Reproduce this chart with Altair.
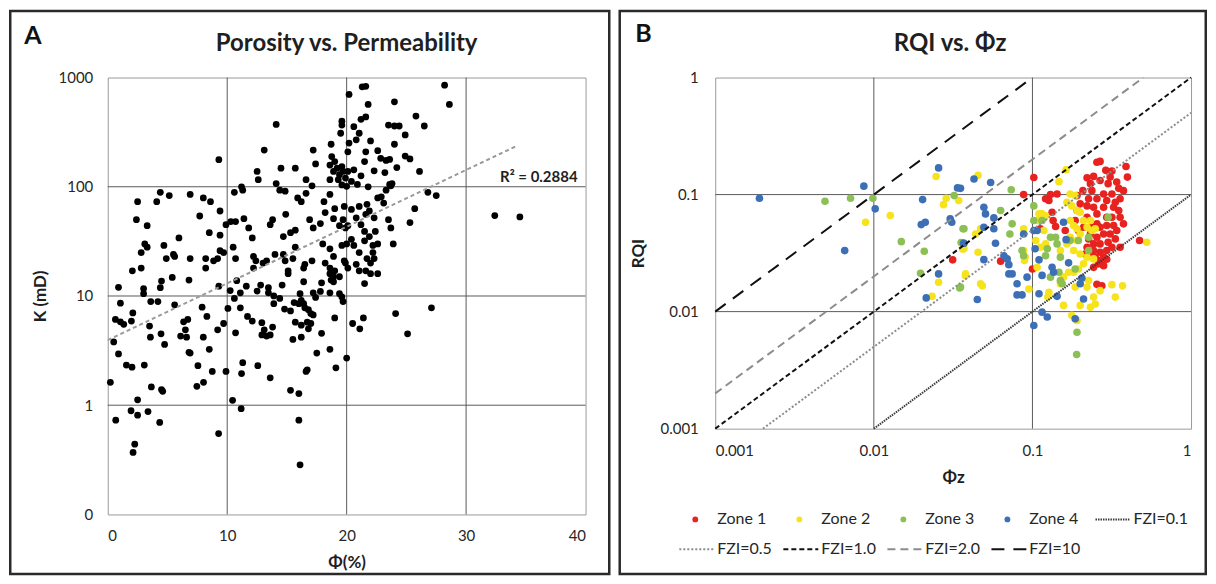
import altair as alt
import pandas as pd

FONT = "Lato"
TXT = "#1f1f1f"
GRID = "#5a5a5a"

# ---------------- Panel A data: porosity (%) vs permeability (mD) ----------------
A_PTS = [
    (14.1, 372), (19.6, 398), (19.6, 367), (19.5, 309), (9.3, 177), (13.1, 217), (17.2, 217), (14.5, 148),
    (15.7, 148), (12.5, 138), (12.6, 116), (17.4, 162), (18.7, 245), (18.75, 189), (18.6, 158), (18.9, 138),
    (19.0, 170), (19.2, 148), (19.4, 129), (19.6, 153), (19.7, 138), (18.6, 116), (19.3, 116), (19.9, 120),
    (19.6, 104), (20.0, 101), (16.6, 116), (17.1, 102), (14.1, 107), (14.4, 93), (14.85, 91), (10.6, 89),
    (11.2, 100), (11.3, 93), (15.9, 79), (16.2, 73), (16.6, 87), (18.1, 73), (18.6, 85), (2.5, 73), (4.4, 89),
    (5.15, 83), (4.1, 73), (6.9, 85), (8.0, 79), (8.6, 73), (9.4, 60), (2.4, 50), (3.3, 44), (7.7, 54),
    (5.96, 34), (8.5, 38), (9.4, 36), (9.9, 45), (10.3, 48), (10.7, 48), (11.4, 51), (11.8, 42), (12.1, 34),
    (13.6, 45), (13.8, 50), (14.9, 56), (14.7, 35), (15.3, 38), (15.7, 40), (16.9, 50), (17.2, 42), (17.8, 46),
    (18.2, 58), (18.9, 51), (19.0, 63), (19.4, 44), (19.7, 50), (19.9, 42), (3.1, 30), (3.3, 28), (4.7, 29),
    (2.8, 25), (2.8, 18), (2.06, 17), (4.9, 22), (5.6, 23), (5.5, 24), (6.9, 22), (8.2, 18), (8.2, 22),
    (8.86, 21), (9.2, 22), (9.4, 26), (9.7, 25), (10.5, 28), (10.7, 22), (12.2, 23), (12.4, 21), (13.0, 20),
    (13.3, 21), (14.0, 24), (14.7, 24), (14.85, 21), (15.7, 28), (15.5, 22), (16.4, 18), (16.5, 19.5),
    (17.1, 21), (15.1, 17), (15.1, 16), (12.2, 18), (18.2, 20), (18.6, 18), (18.6, 16), (18.9, 15), (18.7, 14),
    (19.0, 17), (19.4, 15), (18.0, 30), (18.6, 27), (18.9, 23), (19.6, 29), (20.0, 30), (19.9, 20),
    (4.5, 13.7), (5.4, 14.8), (6.8, 14), (0.9, 12), (3.0, 11.7), (3.0, 10.5), (4.4, 11.9), (9.3, 12.3),
    (10.8, 13.8), (11.6, 12.3), (12.8, 12.6), (13.45, 11.9), (14.6, 12.6), (16.4, 13.5), (17.9, 13.2),
    (18.9, 13.5), (10.25, 11.2), (11.1, 10.7), (12.5, 11.1), (13.45, 10.7), (13.9, 10), (14.4, 9.5),
    (17.2, 10.7), (17.8, 11), (18.6, 10.7), (19.4, 10.5), (3.6, 8.9), (4.2, 8.9), (10.6, 9.5), (16.1, 10.5),
    (17.4, 9.7), (19.6, 9.8), (19.7, 8.9),
    (1.06, 8.6), (2.1, 7.0), (0.64, 6.1), (1.06, 5.8), (1.34, 5.5), (1.98, 5.9), (3.5, 5.3), (3.57, 4.2),
    (4.46, 4.5), (4.76, 3.6), (5.6, 8.3), (7.9, 7.9), (8.3, 6.5), (8.0, 4.2), (6.35, 5.8), (6.7, 6.1),
    (6.5, 4.9), (6.1, 4.3), (6.6, 4.2), (6.8, 3.05), (6.9, 3.0), (8.5, 3.25), (9.2, 4.9), (9.7, 5.6),
    (10.06, 7.7), (11.1, 7.8), (10.7, 4.6), (11.7, 6.5), (12.1, 5.9), (12.9, 5.7), (13.1, 4.9), (13.3, 4.3),
    (13.6, 4.4), (13.8, 5.2), (12.9, 4.4), (13.9, 8.5), (14.8, 7.6), (15.3, 7.3), (15.6, 8.7), (16.0, 8.5),
    (16.2, 9.1), (16.4, 8.5), (16.5, 7.8), (16.8, 7.5), (17.0, 6.9), (17.2, 6.7), (15.7, 5.75), (16.2, 5.4),
    (16.7, 5.75), (17.0, 5.6), (16.8, 5.0), (15.5, 4.0), (16.2, 4.2), (17.9, 4.55), (18.6, 3.25), (19.0, 6.3),
    (17.5, 3.0), (20.0, 2.7), (1.56, 2.33), (2.03, 2.23), (3.06, 2.33), (0.22, 1.62), (3.65, 1.47),
    (4.5, 1.39), (4.6, 1.34), (7.55, 2.3), (8.02, 1.62), (7.46, 1.49), (8.75, 2.04), (9.9, 2.04), (11.3, 2.45),
    (11.2, 1.95), (12.56, 2.3), (13.6, 1.78), (15.3, 1.37), (16.0, 1.28), (16.6, 2.04), (16.7, 2.11),
    (19.1, 2.2), (2.5, 1.12), (1.95, 0.89), (2.5, 0.81), (3.37, 0.875), (0.67, 0.73), (4.35, 0.695),
    (10.45, 1.11), (11.17, 0.93), (9.28, 0.55), (16.0, 0.73), (2.26, 0.44), (2.12, 0.37), (16.1, 0.285),
    (0.5, 3.8), (0.9, 2.95), (20.5, 5.6), (21.1, 5.0), (21.4, 6.3), (24.1, 6.9), (25.1, 4.5), (27.1, 7.8),
    (21.3, 822), (21.6, 832), (20.2, 700), (28.2, 851), (28.6, 567), (21.8, 567), (24.0, 600), (21.2, 414),
    (21.6, 436), (20.6, 355), (21.05, 309), (23.5, 367), (24.0, 360), (24.4, 360), (25.8, 444), (26.5, 360),
    (24.9, 298), (22.0, 263), (20.2, 251), (20.8, 269), (24.0, 245), (21.6, 209), (21.5, 170), (22.6, 214),
    (22.85, 182), (23.3, 174), (23.6, 178), (24.9, 191), (25.3, 180), (20.1, 209), (20.1, 138), (20.6, 143),
    (21.2, 126), (22.3, 140), (24.2, 150), (26.1, 138), (23.2, 135), (23.8, 107), (23.7, 102), (20.4, 112),
    (20.9, 105), (21.8, 100), (23.3, 93), (23.6, 105), (26.8, 89), (27.5, 83), (22.6, 79), (22.9, 81),
    (23.1, 71), (25.7, 63), (32.4, 54.5), (34.5, 53), (19.8, 66), (20.4, 62), (21.05, 66), (21.7, 69),
    (21.9, 60), (20.8, 52), (21.6, 56), (21.2, 45), (20.1, 44), (22.3, 52), (23.5, 50), (23.7, 42), (25.3, 47),
    (21.5, 39), (21.9, 35), (22.4, 39), (23.9, 30), (20.6, 29), (21.05, 25), (20.4, 33), (21.5, 32),
    (22.2, 29), (22.6, 30), (22.2, 25), (21.7, 22), (22.3, 22), (22.0, 20), (19.8, 21), (20.1, 18),
    (20.8, 19.5), (21.05, 17), (21.6, 17), (22.0, 16), (22.6, 16), (21.5, 13),
]
TREND_PHI = [0.0, 34.3]
TREND_K = [3.95, 238.0]
R2_TEXT = "R² = 0.2884"
R2_AT = (39.33, 122.5)
A_XTICKS = [0, 10, 20, 30, 40]
A_YTICKS = [0.1, 1, 10, 100, 1000]

# ---------------- Panel B data: RQI vs normalised porosity ----------------
ZONE1 = [
    (0.255, 0.189), (0.267, 0.192), (0.29, 0.161), (0.317, 0.159), (0.389, 0.174), (0.397, 0.141),
    (0.221, 0.139), (0.243, 0.143), (0.267, 0.132), (0.30, 0.124), (0.34, 0.128), (0.35, 0.113),
    (0.375, 0.108), (0.317, 0.101), (0.281, 0.101), (0.237, 0.108), (0.208, 0.108), (0.191, 0.098),
    (0.226, 0.092), (0.255, 0.092), (0.294, 0.089), (0.333, 0.086), (0.357, 0.092), (0.325, 0.078),
    (0.281, 0.078), (0.243, 0.078), (0.221, 0.080), (0.200, 0.0833), (0.35, 0.0731), (0.375, 0.0562),
    (0.34, 0.0493), (0.294, 0.0641), (0.255, 0.0684), (0.221, 0.0641), (0.237, 0.0526), (0.267, 0.0526),
    (0.294, 0.0544), (0.325, 0.0544), (0.281, 0.0461), (0.255, 0.0432), (0.226, 0.0418), (0.243, 0.0379),
    (0.267, 0.0379), (0.30, 0.0392), (0.333, 0.0418), (0.221, 0.0355), (0.243, 0.0333), (0.267, 0.0322),
    (0.294, 0.0333), (0.249, 0.0292), (0.267, 0.0273), (0.281, 0.0247), (0.261, 0.0256), (0.237, 0.030),
    (0.281, 0.0292), (0.474, 0.0405), (0.088, 0.100), (0.102, 0.140), (0.130, 0.100), (0.143, 0.101),
    (0.121, 0.092), (0.127, 0.089), (0.133, 0.0707), (0.135, 0.060), (0.140, 0.0533), (0.112, 0.051),
    (0.186, 0.060), (0.195, 0.0493), (0.161, 0.0493), (0.063, 0.027), (0.10, 0.0231), (0.255, 0.0171),
    (0.274, 0.0166), (0.232, 0.124), (0.309, 0.141), (0.210, 0.0526), (0.309, 0.0461), (0.232, 0.0461),
    (0.317, 0.0355), (0.215, 0.0311), (0.357, 0.0641), (0.191, 0.0731), (0.317, 0.0641), (0.255, 0.0562),
    (0.294, 0.028), (0.243, 0.0239), (0.357, 0.0355), (0.0314, 0.0277),
]
ZONE2 = [
    (0.00887, 0.058), (0.0127, 0.0662), (0.0247, 0.1425), (0.0286, 0.093), (0.0275, 0.082), (0.0343, 0.089),
    (0.0363, 0.0343), (0.0256, 0.0178), (0.0233, 0.0135), (0.0378, 0.0203),
    (0.0454, 0.146), (0.163, 0.163), (0.147, 0.129), (0.173, 0.101), (0.186, 0.098), (0.165, 0.086),
    (0.177, 0.080), (0.191, 0.0731), (0.20, 0.0707), (0.21, 0.060), (0.232, 0.060), (0.237, 0.0493),
    (0.249, 0.051), (0.221, 0.0526), (0.173, 0.060), (0.182, 0.0544), (0.191, 0.051), (0.20, 0.0461),
    (0.173, 0.0432), (0.191, 0.0405), (0.165, 0.0379), (0.15, 0.0333), (0.182, 0.0333), (0.20, 0.0311),
    (0.221, 0.0292), (0.243, 0.0282), (0.21, 0.0256), (0.195, 0.0231), (0.182, 0.0217), (0.169, 0.0217),
    (0.157, 0.0197), (0.205, 0.019), (0.226, 0.0184), (0.221, 0.0162), (0.186, 0.0162), (0.15, 0.0173),
    (0.317, 0.017), (0.37, 0.0166), (0.333, 0.0133), (0.267, 0.0151), (0.243, 0.0133), (0.232, 0.0109),
    (0.249, 0.0116), (0.20, 0.0113), (0.157, 0.0113), (0.127, 0.0146), (0.125, 0.0133), (0.107, 0.0239),
    (0.090, 0.0292), (0.088, 0.0333), (0.089, 0.0273), (0.105, 0.0405), (0.112, 0.0355), (0.121, 0.0379),
    (0.110, 0.0684), (0.115, 0.0684), (0.121, 0.066), (0.107, 0.060), (0.118, 0.0493), (0.088, 0.051),
    (0.0438, 0.0461), (0.0471, 0.051), (0.0454, 0.0322), (0.0379, 0.021), (0.0471, 0.0173), (0.0483, 0.0166),
    (0.037, 0.0344), (0.095, 0.0156), (0.526, 0.0392), (0.177, 0.0093), (0.191, 0.0084),
]
ZONE3 = [
    (0.00492, 0.0877), (0.00713, 0.093), (0.00986, 0.093), (0.0149, 0.0396), (0.0208, 0.0328), (0.0321, 0.098),
    (0.0365, 0.051), (0.0355, 0.039), (0.0197, 0.0213), (0.0348, 0.0159),
    (0.0735, 0.110), (0.063, 0.0731), (0.0745, 0.0562), (0.0721, 0.0461), (0.037, 0.051), (0.086, 0.0333),
    (0.088, 0.030), (0.102, 0.080), (0.102, 0.060), (0.115, 0.060), (0.130, 0.0432), (0.140, 0.0432),
    (0.124, 0.0344), (0.121, 0.030), (0.143, 0.0379), (0.15, 0.0292), (0.173, 0.0405), (0.195, 0.0405),
    (0.226, 0.0432), (0.186, 0.0231), (0.147, 0.0217), (0.15, 0.0184), (0.154, 0.0173), (0.130, 0.0197),
    (0.30, 0.0641), (0.226, 0.0333), (0.191, 0.00667), (0.0352, 0.0162), (0.19, 0.0043),
]
ZONE4 = [
    (0.0019, 0.093), (0.00865, 0.118), (0.0102, 0.0755), (0.00655, 0.0332), (0.0256, 0.169), (0.0337, 0.114),
    (0.0203, 0.0906), (0.0199, 0.0554), (0.0211, 0.058), (0.0303, 0.062), (0.031, 0.058), (0.0368, 0.0384),
    (0.0256, 0.021), (0.0214, 0.0131),
    (0.0428, 0.136), (0.0545, 0.127), (0.0494, 0.078), (0.0506, 0.0684), (0.0571, 0.0632), (0.0494, 0.0526),
    (0.0571, 0.051), (0.037, 0.0384), (0.0585, 0.0384), (0.0661, 0.030), (0.0693, 0.0282), (0.071, 0.0252),
    (0.0494, 0.0278), (0.071, 0.021), (0.0745, 0.021), (0.080, 0.0173), (0.080, 0.0139), (0.086, 0.0139),
    (0.0925, 0.0197), (0.110, 0.0277), (0.104, 0.0344), (0.102, 0.0493), (0.107, 0.0493), (0.088, 0.0461),
    (0.157, 0.0581), (0.163, 0.0412), (0.169, 0.0261), (0.115, 0.0204), (0.133, 0.0239), (0.136, 0.0217),
    (0.110, 0.0142), (0.115, 0.0099), (0.124, 0.009), (0.102, 0.0076), (0.186, 0.0087), (0.143, 0.0135),
    (0.205, 0.0194), (0.20, 0.0173), (0.21, 0.0128), (0.0449, 0.0127), (0.0352, 0.113),
]
ZONE_NAMES = ["Zone 1", "Zone 2", "Zone 3", "Zone 4"]
ZONE_COLORS = ["#e8221f", "#f6e31c", "#8cc054", "#3c6fb6"]
FZI_VALUES = [0.1, 0.5, 1.0, 2.0, 10.0]
FZI_LABELS = ["FZI=0.1", "FZI=0.5", "FZI=1.0", "FZI=2.0", "FZI=10"]
FZI_DASH = [[1.5, 1], [2, 2], [5, 3], [8, 5], [13, 9]]
FZI_STROKE = ["#3a3a3a", "#8c8c8c", "#111111", "#8c8c8c", "#111111"]
B_TICKS = [0.001, 0.01, 0.1, 1]

# ---------------- layout constants (pixels) ----------------
WA, HA = 479, 438
WB, HB = 477, 352
SW = 2.5

# ================= Panel A =================
xA = alt.X("phi:Q", scale=alt.Scale(domain=[0, 40], nice=False, zero=False),
           axis=alt.Axis(values=A_XTICKS, title="Φ(%)", grid=False, ticks=False, domain=False,
                         labelPadding=14, titlePadding=11))
yA = alt.Y("k:Q", scale=alt.Scale(type="log", domain=[0.1, 1000], nice=False),
           axis=alt.Axis(values=A_YTICKS, format="d", title="K (mD)", grid=False, ticks=False,
                         domain=False, labelPadding=15, titlePadding=9))

one = pd.DataFrame({"t": [""]})

borderA = alt.Chart(one).mark_rect(fillOpacity=0, stroke="#2a2a2a", strokeWidth=SW).encode(
    x=alt.value(-97.75), x2=alt.value(502.75), y=alt.value(-66.75), y2=alt.value(497.75))
gridAx = alt.Chart(pd.DataFrame({"phi": A_XTICKS[1:-1]})).mark_rule(color=GRID, strokeWidth=1).encode(x=xA)
gridAy = alt.Chart(pd.DataFrame({"k": A_YTICKS[1:-1]})).mark_rule(color=GRID, strokeWidth=1).encode(y=yA)
ptsA = alt.Chart(pd.DataFrame(A_PTS, columns=["phi", "k"])).mark_circle(
    size=46, color="#000000", opacity=1).encode(x=xA, y=yA)
trendA = alt.Chart(pd.DataFrame({"phi": TREND_PHI, "k": TREND_K})).mark_line(
    color="#9a9a9a", strokeWidth=2, strokeDash=[4, 3]).encode(x=xA, y=yA)
r2A = alt.Chart(pd.DataFrame({"phi": [R2_AT[0]], "k": [R2_AT[1]], "t": [R2_TEXT]})).mark_text(
    align="right", baseline="middle", font=FONT, fontSize=15, fontWeight="bold", color=TXT).encode(
    x=xA, y=yA, text="t:N")
titleA = alt.Chart(pd.DataFrame({"t": ["Porosity vs. Permeability"]})).mark_text(
    align="center", baseline="middle", font=FONT, fontSize=24, fontWeight="bold", color=TXT).encode(
    x=alt.value(WA / 2), y=alt.value(-34), text="t:N")
letterA = alt.Chart(pd.DataFrame({"t": ["A"]})).mark_text(
    align="center", baseline="middle", font=FONT, fontSize=25, fontWeight="bold", color="#111").encode(
    x=alt.value(-75), y=alt.value(-42), text="t:N")

panelA = alt.layer(borderA, gridAx, gridAy, ptsA, trendA, r2A, titleA, letterA).properties(
    width=WA, height=HA)

# ================= Panel B =================
xB = alt.X("pz:Q", scale=alt.Scale(type="log", domain=[0.001, 1], nice=False),
           axis=alt.Axis(values=B_TICKS, format="~g", title="Φz", grid=False, ticks=False, domain=False,
                         labelPadding=15, titlePadding=11))
yB = alt.Y("rqi:Q", scale=alt.Scale(type="log", domain=[0.001, 1], nice=False),
           axis=alt.Axis(values=B_TICKS, format="~g", title="RQI", grid=False, ticks=False, domain=False,
                         labelPadding=17, titlePadding=13))
zone_color = alt.Color("zone:N", scale=alt.Scale(domain=ZONE_NAMES, range=ZONE_COLORS), legend=None)
fzi_dash = alt.StrokeDash("fzi:N", scale=alt.Scale(domain=FZI_LABELS, range=FZI_DASH), legend=None)
fzi_stroke = alt.Stroke("fzi:N", scale=alt.Scale(domain=FZI_LABELS, range=FZI_STROKE), legend=None)

rowsB = []
for name, pts in zip(ZONE_NAMES, [ZONE1, ZONE2, ZONE3, ZONE4]):
    for pz, rqi in pts:
        rowsB.append({"zone": name, "pz": pz, "rqi": rqi})
dfB = pd.DataFrame(rowsB)

rowsF = []
for f, lab in zip(FZI_VALUES, FZI_LABELS):
    x0 = max(0.001, 0.001 / f)
    x1 = min(1.0, 1.0 / f)
    rowsF.append({"fzi": lab, "pz": x0, "rqi": f * x0, "o": 0})
    rowsF.append({"fzi": lab, "pz": x1, "rqi": f * x1, "o": 1})
dfF = pd.DataFrame(rowsF)

borderB = alt.Chart(one).mark_rect(fillOpacity=0, stroke="#2a2a2a", strokeWidth=SW).encode(
    x=alt.value(-95.75), x2=alt.value(491.75), y=alt.value(-66.75), y2=alt.value(497.75))
gridBx = alt.Chart(pd.DataFrame({"pz": B_TICKS[1:-1]})).mark_rule(color=GRID, strokeWidth=1).encode(x=xB)
gridBy = alt.Chart(pd.DataFrame({"rqi": B_TICKS[1:-1]})).mark_rule(color=GRID, strokeWidth=1).encode(y=yB)
ptsB = alt.Chart(dfB).mark_circle(size=58, opacity=1).encode(x=xB, y=yB, color=zone_color)
linesB = alt.Chart(dfF).mark_line(strokeWidth=2).encode(
    x=xB, y=yB, strokeDash=fzi_dash, stroke=fzi_stroke, order="o:Q")
titleB = alt.Chart(pd.DataFrame({"t": ["RQI vs. Φz"]})).mark_text(
    align="center", baseline="middle", font=FONT, fontSize=24, fontWeight="bold", color=TXT).encode(
    x=alt.value(WB / 2 - 3), y=alt.value(-34), text="t:N")
letterB = alt.Chart(pd.DataFrame({"t": ["B"]})).mark_text(
    align="center", baseline="middle", font=FONT, fontSize=25, fontWeight="bold", color="#111").encode(
    x=alt.value(-72), y=alt.value(-44), text="t:N")

# legend (manual, laid out in pixels under the x axis)
LEG_X0, LEG_DX = 2, 104.3
LEG_Y = [443, 473]
leg_entries = [(n, 0, i) for i, n in enumerate(ZONE_NAMES)] + [(FZI_LABELS[0], 0, 4)] + \
              [(lab, 1, i) for i, lab in enumerate(FZI_LABELS[1:])]
leg_text = pd.DataFrame([{"label": n, "tx": LEG_X0 + c * LEG_DX, "ty": LEG_Y[r]} for n, r, c in leg_entries])
leg_pts = pd.DataFrame([{"zone": n, "lx": LEG_X0 + c * LEG_DX - 22, "ly": LEG_Y[r]}
                        for n, r, c in leg_entries if n in ZONE_NAMES])
leg_lines = pd.DataFrame([{"fzi": n, "lx1": LEG_X0 + c * LEG_DX - 38, "lx2": LEG_X0 + c * LEG_DX - 3,
                           "ly": LEG_Y[r]} for n, r, c in leg_entries if n in FZI_LABELS])

legT = alt.Chart(leg_text).mark_text(align="left", baseline="middle", font=FONT, fontSize=16,
                                     color="#262626").encode(
    x=alt.X("tx:Q", scale=None, axis=None), y=alt.Y("ty:Q", scale=None, axis=None), text="label:N")
legP = alt.Chart(leg_pts).mark_circle(size=34, opacity=1).encode(
    x=alt.X("lx:Q", scale=None, axis=None), y=alt.Y("ly:Q", scale=None, axis=None), color=zone_color)
legL = alt.Chart(leg_lines).mark_rule(strokeWidth=2).encode(
    x=alt.X("lx1:Q", scale=None, axis=None), x2="lx2:Q", y=alt.Y("ly:Q", scale=None, axis=None),
    strokeDash=fzi_dash, stroke=fzi_stroke)

panelB = alt.layer(borderB, gridBx, gridBy, ptsB, linesB, titleB, letterB, legP, legL, legT).properties(
    width=WB, height=HB)

chart = alt.hconcat(panelA, panelB, spacing=6).properties(padding=0).configure_view(
    stroke="#9a9a9a", strokeWidth=1).configure_axis(
    labelFont=FONT, titleFont=FONT, labelFontSize=15, titleFontSize=17, titleFontWeight="bold",
    labelColor="#262626", titleColor=TXT)

chart.save("out.html", embed_options={"renderer": "svg", "actions": False})
